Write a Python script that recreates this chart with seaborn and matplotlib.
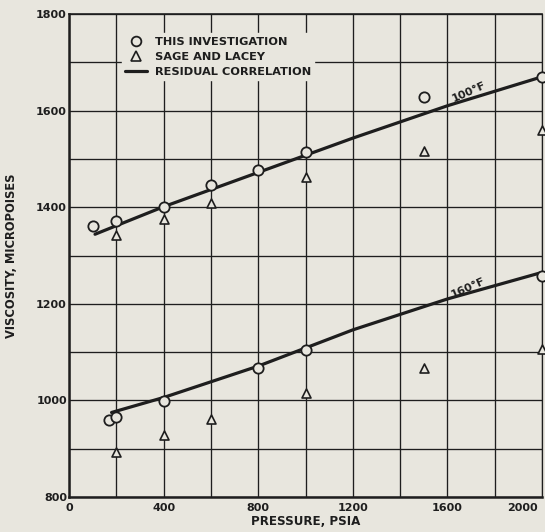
import matplotlib
matplotlib.use("Agg")
import matplotlib.pyplot as plt
from matplotlib.lines import Line2D
from matplotlib.ticker import MultipleLocator
from matplotlib.transforms import ScaledTranslation
import pandas as pd
import seaborn as sns

# ---- data ----
p100_this = [100, 200, 400, 600, 800, 1000, 1500, 2000]
v100_this = [1362, 1372, 1401, 1446, 1478, 1514, 1628, 1670]
p100_sage = [200, 400, 600, 1000, 1500, 2000]
v100_sage = [1343, 1376, 1408, 1463, 1517, 1560]
p160_this = [170, 200, 400, 800, 1000, 2000]
v160_this = [959, 966, 999, 1067, 1104, 1258]
p160_sage = [200, 400, 600, 1000, 1500, 2000]
v160_sage = [894, 928, 961, 1015, 1067, 1106]
p100_corr = [110, 400, 800, 1200, 1600, 2000]
v100_corr = [1344, 1401, 1472, 1543, 1610, 1670]
p160_corr = [180, 400, 800, 1200, 1600, 2000]
v160_corr = [975, 1006, 1071, 1146, 1210, 1265]

x_ticks = [0, 400, 800, 1200, 1600, 2000]
y_ticks = [800, 1000, 1200, 1400, 1600, 1800]
legend_labels = ["THIS INVESTIGATION", "SAGE AND LACEY", "RESIDUAL CORRELATION"]
curve_labels = ["100°F", "160°F"]

PAPER = "#e8e6de"
INK = "#1e1e1e"

sns.set_theme(style="white")
plt.rcParams["font.family"] = ["DejaVu Sans"]
plt.rcParams["font.weight"] = "bold"

fig = plt.figure(figsize=(5.45, 5.32), dpi=100, facecolor=PAPER)
ax = fig.add_axes([69 / 545, 1 - 497 / 532, (542 - 69) / 545, (497 - 14) / 532])
ax.set_facecolor(PAPER)

# correlation lines
for p, v in [(p100_corr, v100_corr), (p160_corr, v160_corr)]:
    df = pd.DataFrame({"p": p, "v": v})
    sns.lineplot(data=df, x="p", y="v", ax=ax, color=INK, lw=2.3,
                 sort=False, estimator=None, zorder=3, legend=False)

# data points
for p, v in [(p100_this, v100_this), (p160_this, v160_this)]:
    df = pd.DataFrame({"p": p, "v": v})
    sns.scatterplot(data=df, x="p", y="v", ax=ax, marker="o", s=55,
                    facecolor=PAPER, edgecolor=INK, linewidth=1.3,
                    zorder=4, clip_on=False, legend=False)
for p, v in [(p100_sage, v100_sage), (p160_sage, v160_sage)]:
    df = pd.DataFrame({"p": p, "v": v})
    sns.scatterplot(data=df, x="p", y="v", ax=ax, marker="^", s=42,
                    facecolor=PAPER, edgecolor=INK, linewidth=1.2,
                    zorder=4, clip_on=False, legend=False)

ax.set_xlim(0, 2000)
ax.set_ylim(800, 1800)
ax.set_xticks(x_ticks)
ax.set_yticks(y_ticks)
ax.xaxis.set_minor_locator(MultipleLocator(200))
ax.yaxis.set_minor_locator(MultipleLocator(100))
ax.grid(True, which="both", color=INK, lw=0.95, zorder=1)
ax.set_axisbelow(True)
ax.tick_params(which="both", length=0, labelsize=8, colors=INK)
ax.tick_params(axis="x", pad=4)
ax.tick_params(axis="y", pad=1.5)
for lab in ax.get_xticklabels() + ax.get_yticklabels():
    lab.set_fontweight("bold")
# last x label sits inside the figure edge, as in the reference
last = ax.get_xticklabels()[-1]
last.set_horizontalalignment("right")
last.set_transform(last.get_transform() + ScaledTranslation(-4 / 100, 0, fig.dpi_scale_trans))

for side, lw in [("left", 1.8), ("bottom", 1.8), ("top", 1.2), ("right", 0.9)]:
    ax.spines[side].set_visible(True)
    ax.spines[side].set_color(INK)
    ax.spines[side].set_linewidth(lw)

ax.set_xlabel("PRESSURE, PSIA", fontsize=8.6, fontweight="bold", color=INK, labelpad=2)
ax.set_ylabel("VISCOSITY, MICROPOISES", fontsize=8.3, fontweight="bold", color=INK)
ax.yaxis.set_label_coords(-0.108, 0.5)

# curve labels
ax.text(1700, 1630, curve_labels[0], rotation=24, rotation_mode="anchor",
        ha="center", va="bottom", fontsize=8, fontweight="bold", color=INK, zorder=5)
ax.text(1695, 1223, curve_labels[1], rotation=24, rotation_mode="anchor",
        ha="center", va="bottom", fontsize=8, fontweight="bold", color=INK, zorder=5)

handles = [
    Line2D([], [], ls="none", marker="o", ms=7, mfc=PAPER, mec=INK, mew=1.3),
    Line2D([], [], ls="none", marker="^", ms=6.5, mfc=PAPER, mec=INK, mew=1.2),
    Line2D([], [], color=INK, lw=2.3),
]
leg = ax.legend(handles, legend_labels, loc="upper left",
                bbox_to_anchor=(0.111, 0.96), frameon=True, fancybox=False,
                facecolor=PAPER, edgecolor=PAPER, framealpha=1,
                prop={"size": 8.2, "weight": "bold"}, labelspacing=0.45,
                handlelength=1.9, handletextpad=0.7, borderpad=0.3,
                borderaxespad=0)
for t in leg.get_texts():
    t.set_color(INK)
leg.set_zorder(6)

fig.savefig("out.png", dpi=100, facecolor=PAPER)
